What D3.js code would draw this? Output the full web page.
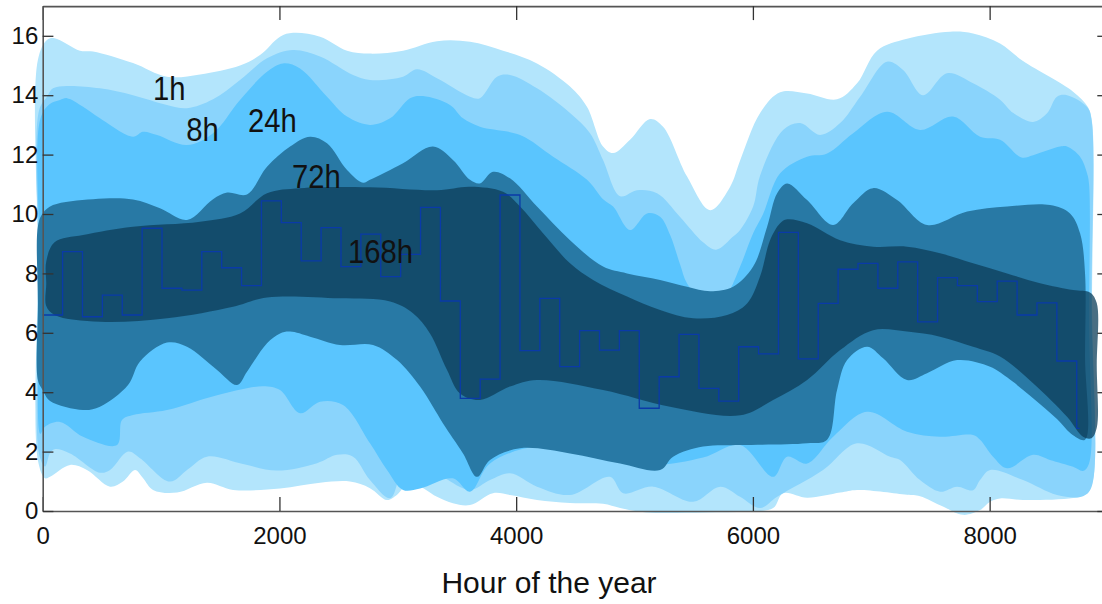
<html>
  <head>
	<title>Hour of the year bands</title>
	<script src="https://cdn.jsdelivr.net/npm/d3@7/dist/d3.min.js" type="text/javascript" charset="utf-8"></script>
	<style>
	  body { margin: 0; background: #fff; }
	  svg { display: block; }
	  text { font-family: "Liberation Sans", Arial, sans-serif; fill: #111; }
	</style>
  </head>
  <body>
	<svg></svg>
  </body>
  <script type="text/javascript">
	// band edges, [hour, value]
	var upper1h = [[-40,15.2],[36,15.86],[100,15.92],[315,15.5],[425,15.47],[763,15.08],[1050,14.62],[1329,14.7],[1667,15.0],[1836,15.35],[2005,15.97],[2115,16.1],[2343,15.97],[2571,15.5],[2765,15.4],[3044,15.5],[3331,15.82],[3610,15.8],[3889,15.5],[4176,15.07],[4455,14.29],[4599,13.6],[4734,12.27],[4819,12.05],[4962,12.5],[5131,13.2],[5241,12.94],[5444,11.26],[5639,10.13],[5808,10.92],[5892,11.8],[6061,13.4],[6230,14.1],[6458,14.06],[6711,13.86],[6880,14.4],[7049,15.5],[7302,15.9],[7666,16.14],[7860,16.08],[8088,15.74],[8282,15.15],[8705,14.12],[8830,13.6],[8865,13.1]];
	var lower1h = [[-40,1.7],[20,1.1],[62,1.15],[231,1.55],[374,1.38],[569,0.82],[678,0.99],[780,1.38],[847,1.11],[932,0.71],[1135,0.62],[1388,0.95],[1608,0.71],[2005,0.76],[2343,0.95],[2596,0.99],[2765,0.77],[2909,0.37],[2994,0.55],[3103,0.95],[3331,0.48],[3466,0.26],[3610,0.2],[3804,0.6],[3948,0.54],[4176,0.37],[4455,0.27],[4734,0.24],[4878,0.1],[5100,-0.05],[5600,-0.05],[5950,-0.02],[6171,0.1],[6255,0.6],[6458,0.45],[6737,0.62],[6880,0.71],[7302,0.55],[7412,0.5],[7606,0.15],[7775,-0.13],[7919,0.03],[8004,0.31],[8088,0.42],[8282,0.37],[8705,0.44],[8800,0.55],[8865,0.9]];
	var upper8h = [[-30,13.5],[36,13.95],[87,14.23],[205,14.31],[484,14.23],[763,14.0],[1050,13.67],[1219,13.56],[1439,13.86],[1667,14.51],[1895,15.24],[2115,15.52],[2343,15.3],[2622,14.68],[2765,14.51],[3044,14.62],[3162,14.87],[3331,14.57],[3610,13.95],[3694,13.9],[3838,14.62],[3948,14.68],[4176,14.23],[4455,13.4],[4624,12.72],[4734,11.82],[4878,10.6],[5021,10.8],[5190,10.7],[5385,9.9],[5579,9.05],[5690,8.8],[5833,9.24],[5892,9.46],[6002,10.25],[6061,11.3],[6255,12.83],[6399,13.06],[6568,12.66],[6737,13.06],[6906,13.95],[7133,15.13],[7269,14.85],[7437,14.0],[7640,14.74],[7860,14.4],[8088,13.85],[8200,13.4],[8367,13.1],[8485,13.39],[8569,13.95],[8654,14.0],[8823,13.6],[8860,13.2]];
	var lower8h = [[-30,1.9],[20,1.5],[62,1.95],[100,2.08],[231,1.94],[484,1.29],[569,1.38],[721,2.0],[822,1.78],[1075,0.99],[1219,1.38],[1388,1.83],[1692,1.58],[1980,1.36],[2318,1.61],[2487,1.89],[2622,1.83],[2765,1.04],[2935,0.43],[3044,1.38],[3188,1.72],[3382,1.15],[3610,0.71],[3779,1.04],[3948,1.27],[4176,0.82],[4455,0.54],[4793,1.15],[4903,0.6],[5157,0.82],[5495,0.31],[5723,0.82],[5892,0.48],[6061,0.1],[6205,0.48],[6593,1.38],[6880,2.28],[7159,1.83],[7243,1.72],[7412,1.04],[7581,0.65],[7725,0.82],[7860,0.7],[7919,1.04],[8004,1.38],[8282,1.04],[8569,0.54],[8789,0.5],[8860,0.8]];
	var upper24h = [[-20,13.2],[60,13.7],[146,13.84],[205,13.9],[341,13.61],[484,13.22],[763,12.6],[847,12.77],[966,12.66],[1219,12.32],[1439,12.72],[1667,13.84],[1895,14.79],[2031,15.07],[2174,14.9],[2402,13.95],[2571,13.28],[2765,13.0],[2935,13.22],[3103,13.9],[3213,13.97],[3441,13.67],[3551,13.22],[3694,12.94],[4033,12.66],[4312,11.93],[4599,11.15],[4734,10.5],[4819,10.25],[4962,9.46],[5106,10.02],[5216,9.91],[5300,9.3],[5385,8.3],[5444,7.66],[5580,7.05],[5664,6.9],[5782,7.3],[5892,8.23],[6002,9.35],[6086,10.0],[6230,11.37],[6458,11.93],[6627,12.04],[6847,12.72],[7133,13.44],[7412,12.83],[7691,13.28],[7919,12.6],[8088,12.5],[8270,11.9],[8367,11.98],[8595,12.27],[8654,12.27],[8764,11.93],[8823,11.37],[8840,11.0]];
	var lower24h = [[-20,2.6],[20,2.84],[146,3.0],[341,2.5],[628,2.22],[670,3.06],[763,3.23],[1050,3.4],[1473,3.9],[1861,4.2],[2005,4.07],[2174,3.29],[2343,3.68],[2537,3.57],[2765,2.28],[2909,1.38],[3044,0.71],[3188,0.76],[3466,1.1],[3610,0.65],[3779,1.6],[4176,2.17],[4734,1.83],[5157,1.55],[5579,1.8],[5892,2.22],[6171,1.15],[6289,1.83],[6458,1.6],[6678,2.5],[6965,3.34],[7302,2.67],[7581,2.5],[7860,2.56],[7919,2.4],[8029,1.83],[8147,1.44],[8367,1.89],[8510,1.72],[8705,1.49],[8789,1.35],[8840,1.6]];
	var upper72h = [[-40,9.6],[0,10.02],[87,10.3],[425,10.5],[763,10.49],[991,10.19],[1219,9.8],[1439,10.5],[1558,10.72],[1726,10.66],[1895,11.59],[2090,12.27],[2259,12.6],[2402,12.38],[2571,11.48],[2706,11.05],[2765,11.15],[3044,11.71],[3297,12.27],[3466,11.82],[3610,11.15],[3694,11.03],[3804,11.42],[3948,11.2],[4176,10.25],[4455,9.12],[4734,8.23],[4937,8.0],[5216,7.78],[5444,7.55],[5639,7.4],[5833,7.55],[6002,8.23],[6120,9.57],[6205,10.7],[6289,11.03],[6458,10.47],[6678,9.63],[6847,10.36],[7015,10.87],[7218,10.47],[7471,9.63],[7810,10.08],[8147,10.25],[8510,10.3],[8679,10.02],[8764,9.35],[8806,8.0]];
	var lower72h = [[-40,4.4],[0,4.07],[62,3.7],[341,3.4],[484,3.51],[721,4.24],[822,5.03],[1050,5.67],[1219,5.53],[1473,4.75],[1642,4.24],[1726,4.69],[1895,5.65],[2005,5.98],[2090,6.04],[2259,5.87],[2512,5.59],[2791,5.59],[2994,5.08],[3188,4.19],[3297,3.51],[3382,2.95],[3551,1.94],[3669,1.15],[3779,1.72],[4033,2.11],[4455,1.94],[4878,1.6],[5216,1.38],[5326,1.83],[5579,2.17],[5892,2.22],[6458,2.28],[6627,2.4],[6711,4.07],[6796,5.08],[6965,5.53],[7100,5.14],[7302,4.41],[7471,4.64],[7725,5.08],[8004,4.86],[8147,4.5],[8367,3.8],[8569,3.1],[8705,2.55],[8806,2.4]];
	var upper168h = [[30,8.4],[100,9.05],[341,9.29],[763,9.57],[1329,9.74],[1667,10.02],[1895,10.7],[2174,10.87],[2765,10.9],[3331,10.8],[3610,10.92],[3889,10.75],[4033,10.25],[4227,9.35],[4455,8.34],[4650,7.78],[4937,7.22],[5216,6.77],[5495,6.49],[5782,6.6],[5951,6.99],[6061,7.9],[6145,9.12],[6230,9.69],[6289,9.82],[6458,9.69],[6737,9.12],[7015,8.9],[7302,8.9],[7581,8.68],[7860,8.34],[8147,8.0],[8426,7.67],[8705,7.44],[8850,7.35],[8905,7.0]];
	var lower168h = [[30,6.9],[100,6.6],[484,6.37],[1050,6.49],[1608,6.88],[1895,7.19],[2512,7.16],[2935,7.05],[3128,6.66],[3272,5.98],[3416,4.75],[3526,3.96],[3694,3.74],[3948,4.19],[4176,4.41],[4734,4.07],[5300,3.51],[5892,3.22],[6171,3.74],[6458,4.41],[6737,5.42],[7015,6.09],[7302,6.04],[7581,5.87],[7860,5.53],[8088,5.2],[8367,4.3],[8654,3.17],[8789,2.5],[8860,2.45],[8905,2.8]];

	// weekly mean, one value per 168 h (last one is the 24 h stub)
	var weekHours = 168;
	var yearHours = 8760;
	var weeklyMean = [6.6,8.73,6.54,7.27,6.6,9.52,7.5,7.44,8.73,8.19,7.59,10.44,9.71,8.42,9.54,8.23,9.32,7.89,8.64,10.22,7.07,3.79,4.44,10.64,5.4,7.16,4.86,6.07,5.42,6.07,3.46,4.52,5.95,4.13,3.7,5.53,5.29,9.38,5.12,6.99,8.14,8.34,7.5,8.39,6.37,7.86,7.59,7.05,7.74,6.6,7.01,5.05,2.78];

	var bandNames = ['1h', '8h', '24h', '72h', '168h'];
	var labelHour = [932, 1212, 1735, 2106, 2580];
	var labelValue = [13.84, 12.46, 12.76, 10.88, 8.35];

	var xTicks = [0, 2000, 4000, 6000, 8000];
	var yTicks = [0, 2, 4, 6, 8, 10, 12, 14, 16];

	(function() {
	  var width = 1102, height = 604;
	  var left = 42.7, right = 1108, top = 6.1, bottom = 511;

	  var svg = d3.select('svg')
				.attr('width', width)
				.attr('height', height);

	  var x = d3.scaleLinear().domain([0, 9000]).range([left, right]);
	  var y = d3.scaleLinear().domain([0, 17]).range([bottom, top]);

	  var bands = [
		{upper: upper1h, lower: lower1h, fill: '#b3e5fc', opacity: 1},
		{upper: upper8h, lower: lower8h, fill: '#8ad4fc', opacity: 1},
		{upper: upper24h, lower: lower24h, fill: '#5ac5fe', opacity: 1},
		{upper: upper72h, lower: lower72h, fill: '#2879a5', opacity: 1},
		{upper: upper168h, lower: lower168h, fill: 'rgb(12,62,90)', opacity: 0.75}
	  ];

	  var outline = d3.line().curve(d3.curveCatmullRomClosed.alpha(0.5));

	  function bandPath(b) {
		var up = b.upper, lo = b.lower;
		var pts = up.map(function(d) { return [x(d[0]), y(d[1])]; });
		var ru = up[up.length - 1], rl = lo[lo.length - 1];
		pts.push([x((ru[0] + rl[0]) / 2), y((ru[1] + rl[1]) / 2)]);
		lo.slice().reverse().forEach(function(d) { pts.push([x(d[0]), y(d[1])]); });
		pts.push([x((up[0][0] + lo[0][0]) / 2), y((up[0][1] + lo[0][1]) / 2)]);
		return outline(pts);
	  }

	  var canvas = svg.append('g');

	  canvas.selectAll('.band')
			.data(bands)
			.enter()
			.append('path')
			.attr('class', 'band')
			.attr('d', bandPath)
			.attr('fill', function(d) { return d.fill; })
			.attr('fill-opacity', function(d) { return d.opacity; });

	  // weekly step line
	  var steps = weeklyMean.map(function(v, i) { return [i * weekHours, v]; });
	  steps.push([yearHours, weeklyMean[weeklyMean.length - 1]]);
	  var stepLine = d3.line()
					   .x(function(d) { return x(d[0]); })
					   .y(function(d) { return y(d[1]); })
					   .curve(d3.curveStepAfter);
	  canvas.append('path')
			.attr('d', stepLine(steps))
			.attr('fill', 'none')
			.attr('stroke', '#0a3aa8')
			.attr('stroke-width', 1.3);

	  // labels are a condensed face in the original, squeeze them
	  canvas.selectAll('.band-label')
			.data(bandNames)
			.enter()
			.append('text')
			.attr('class', 'band-label')
			.text(function(d) { return d; })
			.attr('transform', function(d, i) {
			  return 'translate(' + x(labelHour[i]) + ',' + y(labelValue[i]) + ') scale(0.86,1)';
			})
			.attr('font-size', 34);

	  // axes, ticks pointing inward
	  var axes = svg.append('g').attr('class', 'axes');
	  axes.append('g')
		  .attr('transform', 'translate(0,' + bottom + ')')
		  .call(d3.axisBottom(x).tickValues(xTicks).tickSizeInner(-14).tickSizeOuter(0).tickPadding(16).tickFormat(d3.format('d')));
	  axes.append('g')
		  .attr('transform', 'translate(0,' + top + ')')
		  .call(d3.axisTop(x).tickValues(xTicks).tickSizeInner(-14).tickSizeOuter(0).tickFormat(''));
	  axes.append('g')
		  .attr('transform', 'translate(' + left + ',0)')
		  .call(d3.axisLeft(y).tickValues(yTicks).tickSizeInner(-10.7).tickSizeOuter(0).tickPadding(4.4));
	  axes.append('g')
		  .attr('transform', 'translate(' + right + ',0)')
		  .call(d3.axisRight(y).tickValues(yTicks).tickSizeInner(-10.7).tickSizeOuter(0).tickFormat(''));

	  axes.selectAll('.domain').attr('stroke', '#555').attr('stroke-width', 1.6);
	  axes.selectAll('.tick line').attr('stroke', '#333').attr('stroke-width', 1.3);
	  axes.selectAll('.tick text')
		  .attr('font-size', 24)
		  .attr('font-family', '"Liberation Sans", Arial, sans-serif')
		  .attr('fill', '#111');

	  svg.append('text')
		 .attr('x', 549)
		 .attr('y', 593)
		 .attr('text-anchor', 'middle')
		 .attr('font-size', 30)
		 .text('Hour of the year');
	})();
  </script>
</html>
